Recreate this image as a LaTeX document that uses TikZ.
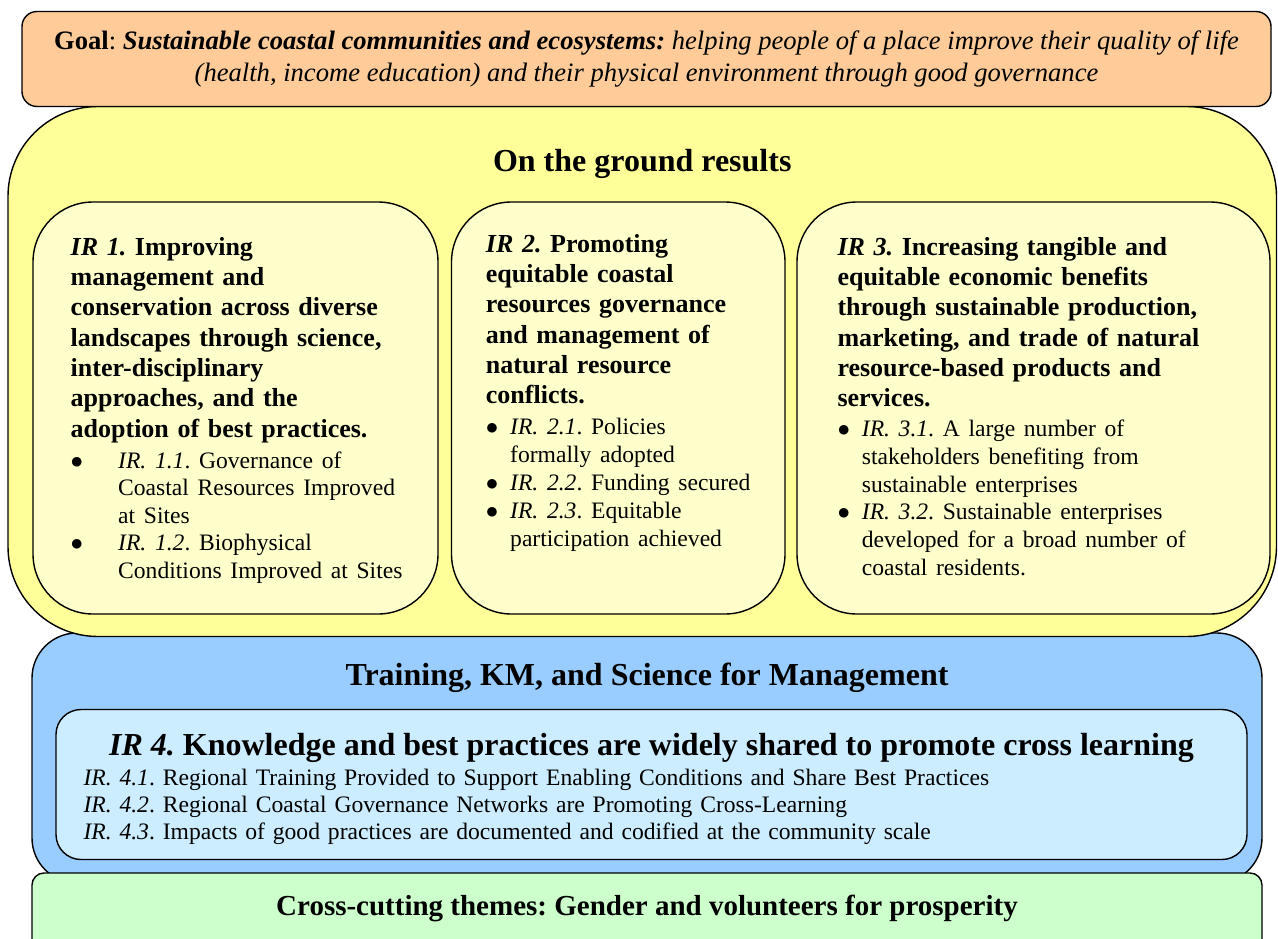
\documentclass[tikz,border=0pt]{standalone}
\usepackage{fontspec}
\setmainfont{Liberation Serif}
\usetikzlibrary{positioning,calc}

\definecolor{goalorange}{HTML}{FFCC99}
\definecolor{groundyellow}{HTML}{FFFF99}
\definecolor{irpale}{HTML}{FFFFCC}
\definecolor{trainblue}{HTML}{99CCFF}
\definecolor{irblue}{HTML}{CCECFF}
\definecolor{crossgreen}{HTML}{CCFFCC}

\newcommand{\firststrut}{\rule{0pt}{20pt}}
\newcommand{\irbullet}[1]{\makebox[#1][l]{$\bullet$}}

\frenchspacing

\begin{document}
\begin{tikzpicture}[x=1pt, y=-1pt,
				box/.style={rectangle, draw=black, line width=1.4pt, inner sep=0pt, outer sep=0pt, anchor=north west},
				goalbox/.style={box, fill=goalorange, rounded corners=15pt, minimum width=1249pt, minimum height=95pt, align=center, font=\fontsize{26.6}{31.7}\selectfont},
				groundbox/.style={box, fill=groundyellow, rounded corners=90pt, minimum width=1268.5pt, minimum height=530pt},
				irbox/.style={box, fill=irpale, rounded corners=60pt, minimum height=412pt},
				trainbox/.style={box, fill=trainblue, rounded corners=45pt, minimum width=1230pt, minimum height=250pt},
				ir4box/.style={box, fill=irblue, rounded corners=25pt, minimum width=1191pt, minimum height=150pt},
				crossbox/.style={box, fill=crossgreen, rounded corners=12pt, minimum width=1230pt, minimum height=90pt},
				heading/.style={inner sep=0pt, anchor=base, font=\fontsize{32}{36}\selectfont\bfseries},
				irtext/.style={inner sep=0pt, anchor=north west, text width=400pt, align=left, font=\fontsize{26}{30.3}\selectfont},
				listtext/.style={inner sep=0pt, anchor=north west, text width=1100pt, align=left, font=\fontsize{23.6}{27.2}\selectfont}
			]
			\useasboundingbox (0,0) rectangle (1278,939);
			% lower layers first
			\node[trainbox] (training) at (32,633) {};
			\node[ir4box] (ir4) at ($(training.north west)+(24,76.5)$) {};
			\node[crossbox] (cross) at (32,873) {};
			\node[groundbox] (ground) at (8,106.5) {};
			\node[irbox, minimum width=405pt] (ir1) at (33,202) {};
			\node[irbox, minimum width=333.5pt, anchor=west] (ir2) [right=13.5pt of ir1] {};
			\node[irbox, minimum width=473pt, anchor=west] (ir3) [right=12pt of ir2] {};
			\node[goalbox] (goal) at (22,11.5) {\textbf{Goal}: \textbf{\textit{Sustainable coastal communities and ecosystems:}} \textit{helping people of a place improve their quality of life}\\ \textit{(health, income education) and their physical environment through good governance}};
			% titles
			\node[heading] (groundtitle) at ($(ground.north)+(0,65.5)$) {On the ground results};
			\node[heading] (traintitle) at ($(training.north)+(0,52)$) {Training, KM, and Science for Management};
			\node[heading] (ir4title) at ($(ir4.north)+(0,45.5)$) {\textit{IR 4.} Knowledge and best practices are widely shared to promote cross learning};
			\node[heading, font=\fontsize{29}{33}\selectfont\bfseries] (crosstitle) at ($(cross.north)+(0,42)$) {Cross-cutting themes: Gender and volunteers for prosperity};
			% intermediate results
			\node[irtext] (ir1text) at ($(ir1.north west)+(37.5,33)$) {%
				{\bfseries\firststrut\textit{IR 1.} Improving\\ management and\\ conservation across diverse\\ landscapes through science,\\ inter-disciplinary\\ approaches, and the\\ adoption of best practices.\par}
				\vspace{3.5pt}
				{\fontsize{23.6}{27.6}\selectfont
				\irbullet{47.5pt}\textit{IR. 1.1}. Governance of\\ \hspace*{47.5pt}Coastal Resources Improved\\ \hspace*{47.5pt}at Sites\\
				\irbullet{47.5pt}\textit{IR. 1.2}. Biophysical\\ \hspace*{47.5pt}Conditions Improved at Sites\par}};
			\node[irtext] (ir2text) at ($(ir2.north west)+(34.2,30)$) {%
				{\bfseries\firststrut\textit{IR 2.} Promoting\\ equitable coastal\\ resources governance\\ and management of\\ natural resource\\ conflicts.\par}
				\vspace{3.5pt}
				{\fontsize{23.6}{27.8}\selectfont
				\irbullet{24.3pt}\textit{IR. 2.1}. Policies\\ \hspace*{24.3pt}formally adopted\\
				\irbullet{24.3pt}\textit{IR. 2.2}. Funding secured\\
				\irbullet{24.3pt}\textit{IR. 2.3}. Equitable\\ \hspace*{24.3pt}participation achieved\par}};
			\node[irtext] (ir3text) at ($(ir3.north west)+(40.3,33)$) {%
				{\bfseries\firststrut\textit{IR 3.} Increasing tangible and\\ equitable economic benefits\\ through sustainable production,\\ marketing, and trade of natural\\ resource-based products and\\ services.\par}
				\vspace{2pt}
				{\fontsize{23.6}{27.8}\selectfont
				\irbullet{24.4pt}\textit{IR. 3.1}. A large number of\\ \hspace*{24.4pt}stakeholders benefiting from\\ \hspace*{24.4pt}sustainable enterprises\\
				\irbullet{24.4pt}\textit{IR. 3.2}. Sustainable enterprises\\ \hspace*{24.4pt}developed for a broad number of\\ \hspace*{24.4pt}coastal residents.\par}};
			\node[listtext] (ir4items) at ($(ir4.north west)+(27.3,55.5)$) {\firststrut\textit{IR. 4.1}. Regional Training Provided to Support Enabling Conditions and Share Best Practices\\
				\textit{IR. 4.2}. Regional Coastal Governance Networks are Promoting Cross-Learning\\
				\textit{IR. 4.3}. Impacts of good practices are documented and codified at the community scale};
\end{tikzpicture}
\end{document}
